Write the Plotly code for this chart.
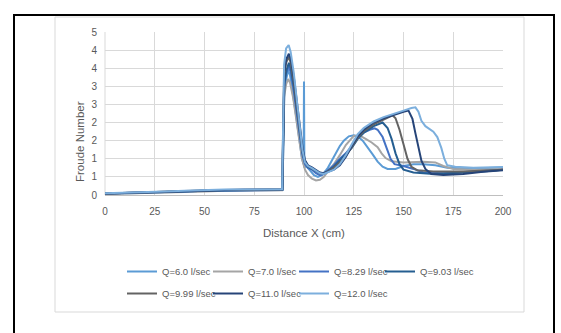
import plotly.graph_objects as go

# ---------------- data ----------------
series_names = ["Q=6.0 l/sec", "Q=7.0 l/sec", "Q=8.29 l/sec", "Q=9.03 l/sec",
                "Q=9.99 l/sec", "Q=11.0 l/sec", "Q=12.0 l/sec"]
series_colors = ["#5B9BD5", "#A5A5A5", "#4472C4", "#255E91",
                 "#636363", "#264478", "#7CAFDD"]

x_ticks = [0, 25, 50, 75, 100, 125, 150, 175, 200]
y_tickvals = [0, 0.5, 1, 1.5, 2, 2.5, 3, 3.5, 4, 4.5]
y_ticktext = ["0", "1", "1", "2", "2", "3", "3", "4", "4", "5"]

x_q60 = [0, 10, 20, 30, 40, 50, 60, 70, 80, 89.2, 90.0, 91.0, 92.0, 93.0, 94.5, 96.0, 97.5, 99.0, 99.8, 100.0, 100.2,
         101.5, 103, 105, 107, 109, 111, 112, 114, 116, 118, 120, 122.5, 125, 127, 129.5, 132, 134.5, 137, 139.5,
         142, 146, 150, 155, 160, 166, 172, 185, 200]
f_q60 = [0.03, 0.04, 0.06, 0.07, 0.09, 0.11, 0.12, 0.12, 0.13, 0.14, 2.9, 3.15, 3.45, 3.3, 2.8, 2.2, 1.6, 1.0, 0.85, 3.13, 0.78,
         0.78, 0.68, 0.55, 0.5, 0.55, 0.68, 0.75, 0.95, 1.15, 1.35, 1.5, 1.62, 1.65, 1.62, 1.5, 1.32, 1.12, 0.92, 0.78,
         0.72, 0.72, 0.8, 0.85, 0.85, 0.82, 0.75, 0.73, 0.76]

x_q70 = [0, 10, 20, 30, 40, 50, 60, 70, 80, 89.0, 90.0, 91.0, 92.0, 93.0, 94.5, 96.0, 97.5, 99.0, 100.5,
         102, 104, 106, 108, 110, 112, 115, 118, 121, 125, 128, 131, 134, 137, 139, 141, 144, 150, 160, 166, 170,
         175, 185, 200]
f_q70 = [0.03, 0.04, 0.05, 0.07, 0.09, 0.1, 0.12, 0.12, 0.13, 0.13, 2.7, 3.05, 3.2, 3.1, 2.7, 2.15, 1.55, 1.0, 0.7,
         0.55, 0.45, 0.4, 0.42, 0.5, 0.65, 0.85, 1.1, 1.38, 1.63, 1.64, 1.55, 1.45, 1.32, 1.15, 1.02, 0.93, 0.9, 0.92,
         0.9, 0.8, 0.72, 0.7, 0.72]

x_q829 = [0, 10, 20, 30, 40, 50, 60, 70, 80, 89.0, 90.0, 91.0, 92.3, 93.3, 94.8, 96.3, 97.8, 99.2, 100.5,
          102, 104, 106, 108, 110, 112, 115, 118, 121, 124, 127, 130, 133, 135.5, 137, 139.5, 141.5, 143.5, 145.5,
          150, 155, 160, 170, 180, 190, 200]
f_q829 = [0.04, 0.05, 0.06, 0.08, 0.1, 0.12, 0.13, 0.13, 0.14, 0.14, 3.0, 3.35, 3.55, 3.4, 2.9, 2.3, 1.7, 1.1, 0.85,
          0.75, 0.7, 0.6, 0.55, 0.58, 0.68, 0.82, 1.0, 1.15, 1.35, 1.58, 1.72, 1.8, 1.84, 1.8, 1.6, 1.3, 1.0, 0.85,
          0.8, 0.72, 0.62, 0.6, 0.62, 0.66, 0.7]

x_q903 = [0, 10, 20, 30, 40, 50, 60, 70, 80, 89.2, 90.2, 91.2, 92.4, 93.4, 94.9, 96.4, 97.9, 99.3, 100.5,
          102, 104, 106, 108, 110, 112, 115, 119, 124, 127, 130, 135, 139.5, 142, 144, 146, 148, 150, 155, 165,
          175, 190, 200]
f_q903 = [0.04, 0.05, 0.07, 0.08, 0.1, 0.12, 0.13, 0.14, 0.14, 0.15, 3.1, 3.45, 3.65, 3.5, 3.0, 2.4, 1.75, 1.15, 0.9,
          0.78, 0.72, 0.65, 0.6, 0.6, 0.66, 0.78, 1.0, 1.3, 1.55, 1.72, 1.9, 2.0, 1.85, 1.55, 1.15, 0.85, 0.7, 0.62,
          0.58, 0.6, 0.65, 0.7]

x_q999 = [0, 10, 20, 30, 40, 50, 60, 70, 80, 89.0, 90.0, 91.0, 92.3, 93.3, 94.8, 96.3, 97.8, 99.3, 100.5,
          102, 104, 106, 108, 110, 112, 115, 120, 124, 127, 130, 135, 140, 144.5, 146, 148, 150, 152, 154, 157,
          165, 180, 200]
f_q999 = [0.04, 0.05, 0.07, 0.09, 0.11, 0.13, 0.14, 0.14, 0.15, 0.15, 3.3, 3.65, 3.82, 3.65, 3.15, 2.5, 1.85, 1.2, 0.92,
          0.8, 0.74, 0.66, 0.6, 0.6, 0.65, 0.75, 1.0, 1.32, 1.58, 1.76, 1.95, 2.08, 2.2, 2.12, 1.8, 1.4, 1.0, 0.78,
          0.68, 0.65, 0.65, 0.7]

x_q110 = [0, 10, 20, 30, 40, 50, 60, 70, 80, 89.1, 90.1, 91.1, 92.4, 93.4, 94.9, 96.4, 97.9, 99.4, 100.6,
          102, 104, 106, 108, 110, 112, 115, 118, 121, 124, 127, 130, 135, 140, 145, 150, 152.5, 154.5, 156, 157.5,
          159, 161, 164, 170, 180, 190, 200]
f_q110 = [0.04, 0.06, 0.07, 0.09, 0.11, 0.13, 0.14, 0.15, 0.15, 0.16, 3.4, 3.75, 3.9, 3.75, 3.25, 2.6, 1.9, 1.25, 0.95,
          0.82, 0.76, 0.68, 0.62, 0.6, 0.64, 0.7, 0.82, 1.05, 1.35, 1.62, 1.8, 2.0, 2.12, 2.22, 2.3, 2.33, 2.1, 1.7, 1.3,
          0.95, 0.72, 0.58, 0.55, 0.58, 0.64, 0.68]

x_q120 = [0, 10, 20, 30, 40, 50, 60, 70, 80, 89.0, 90.0, 91.0, 92.3, 93.3, 94.8, 96.3, 97.8, 99.2, 100.5,
          102, 104, 106, 108, 110, 112, 115, 118, 121, 124, 127, 130, 135, 140, 145, 150, 154, 156, 157.5, 159, 161,
          163, 165, 167, 169, 170.5, 172, 176, 185, 200]
f_q120 = [0.05, 0.06, 0.08, 0.1, 0.12, 0.14, 0.15, 0.15, 0.16, 0.16, 3.6, 4.05, 4.14, 3.95, 3.4, 2.7, 1.95, 1.25, 0.9,
          0.8, 0.74, 0.66, 0.6, 0.58, 0.62, 0.7, 0.85, 1.1, 1.4, 1.68, 1.85, 2.03, 2.15, 2.25, 2.33, 2.4, 2.42, 2.3, 2.05,
          1.9, 1.82, 1.75, 1.6, 1.3, 1.0, 0.82, 0.78, 0.75, 0.77]

xs = [x_q60, x_q70, x_q829, x_q903, x_q999, x_q110, x_q120]
fs = [f_q60, f_q70, f_q829, f_q903, f_q999, f_q110, f_q120]

# ---------------- layout geometry (pixels) ----------------
W, H = 561, 333
PL, PR, PT, PB = 105, 503, 32, 195   # plot area edges


def px_x(px):
    return (px - PL) / (PR - PL)


def px_y(py):
    return (PB - py) / (PB - PT)


FONT = "Liberation Sans, Arial, sans-serif"
TXT = "#595959"
LEG_FONT = dict(family=FONT, size=9.5, color=TXT)

fig = go.Figure()
for i, (name, col, x, f) in enumerate(zip(series_names, series_colors, xs, fs)):
    legend_id = "legend" if i < 4 else "legend2"
    extra = {}
    if i in (3, 6):
        extra["legendwidth"] = 60
    fig.add_trace(go.Scatter(x=x, y=f, mode="lines", name=name, legend=legend_id,
                             line=dict(color=col, width=2), **extra))

fig.update_layout(
    width=W, height=H,
    margin=dict(l=PL, r=W - PR, t=PT, b=H - PB),
    paper_bgcolor="white", plot_bgcolor="white",
    font=dict(family=FONT, size=10, color=TXT),
    showlegend=True,
    legend=dict(orientation="h", x=px_x(122), xanchor="left", y=px_y(257), yanchor="top",
                font=LEG_FONT, entrywidth=41, itemwidth=30, bgcolor="rgba(0,0,0,0)"),
    legend2=dict(orientation="h", x=px_x(122), xanchor="left", y=px_y(279), yanchor="top",
                 font=LEG_FONT, entrywidth=41, itemwidth=30, bgcolor="rgba(0,0,0,0)"),
    xaxis=dict(range=[0, 200], tickvals=x_ticks, showgrid=True, gridcolor="#D9D9D9", gridwidth=1,
               zeroline=False, showline=True, linecolor="#BFBFBF", linewidth=1, ticks="",
               tickfont=dict(size=10, color=TXT), ticklabelstandoff=7),
    yaxis=dict(range=[0, 4.5], tickvals=y_tickvals, ticktext=y_ticktext, showgrid=True,
               gridcolor="#D9D9D9", gridwidth=1, zeroline=False, showline=False, ticks="",
               tickfont=dict(size=10, color=TXT), ticklabelstandoff=7),
)

fig.add_shape(type="line", xref="paper", yref="paper", x0=0, x1=0, y0=0, y1=1,
              line=dict(color="#D9D9D9", width=1), layer="below")

# chart area frame and outer black frame
fig.add_shape(type="rect", xref="paper", yref="paper",
              x0=px_x(55), x1=px_x(524), y0=px_y(312), y1=px_y(17),
              line=dict(color="#D9D9D9", width=1), layer="below")
fig.add_shape(type="rect", xref="paper", yref="paper",
              x0=px_x(14), x1=px_x(554), y0=px_y(350), y1=px_y(15),
              line=dict(color="black", width=2), layer="below")

# axis titles
fig.add_annotation(text="Froude Number", xref="paper", yref="paper", x=px_x(80), y=px_y(142),
                   xanchor="center", yanchor="middle",
                   showarrow=False, textangle=-90, font=dict(size=11.5, color=TXT, family=FONT))
fig.add_annotation(text="Distance X (cm)", xref="paper", yref="paper", x=px_x(304), y=px_y(233),
                   xanchor="center", yanchor="middle",
                   showarrow=False, font=dict(size=11.5, color=TXT, family=FONT))

fig.write_html("out.html")
